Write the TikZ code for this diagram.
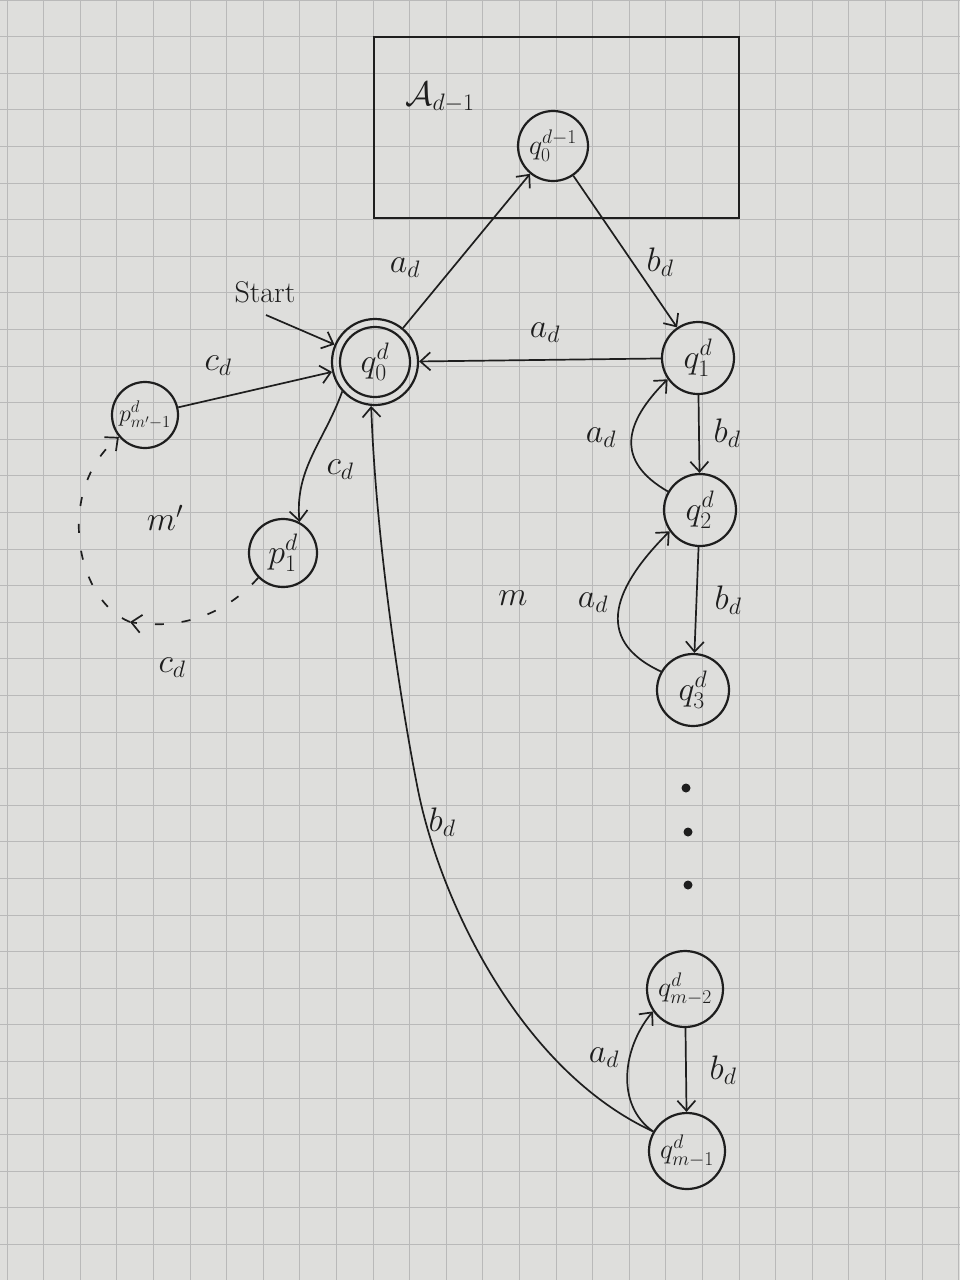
\RequirePackage{fix-cm}
\documentclass[tikz,border=0pt]{standalone}
\usepackage{amsmath}
\usetikzlibrary{arrows.meta}
\definecolor{paper}{RGB}{222,222,220}
\definecolor{gridc}{RGB}{185,185,185}
\definecolor{ink}{RGB}{30,30,30}
\begin{document}
\begin{tikzpicture}[x=1pt,y=-1pt,
  >={Straight Barb[length=10pt,width=18pt]},
  state/.style={circle,draw=ink,line width=2.2pt,minimum size=70pt,inner sep=0pt,
    text=ink,font=\fontsize{34}{38}\selectfont},
  edge/.style={->,draw=ink,line width=1.7pt},
  lab/.style={text=ink,inner sep=1pt,font=\fontsize{34}{38}\selectfont},
  dashededge/.style={->,draw=ink,line width=1.7pt,dash pattern=on 9pt off 18pt},
  dotnode/.style={circle,fill=ink,minimum size=9pt,inner sep=0pt},
  gridline/.style={draw=gridc,line width=1pt}]
\useasboundingbox (0,0) rectangle (960,1280);
\fill[paper] (0,0) rectangle (960,1280);
\foreach \i in {0,...,26} \draw[gridline] ({7+\i*36.6},0) -- ({7+\i*36.6},1280);
\foreach \j in {0,...,35} \draw[gridline] (0,{\j*36.6}) -- (960,{\j*36.6});

% box A_{d-1}
\draw[ink,line width=2.2pt] (374,37) rectangle (739,218);
\node[lab] (Alab) at (440,97) {$\mathcal{A}_{d-1}$};

% states
\node[state,font=\fontsize{28}{32}\selectfont] (qA) at (553,146) {$q_0^{d-1}$};
\node[state,minimum size=86pt] (q0) at (375,362) {$q_0^{d}$};
\draw[ink,line width=2.2pt] (q0.center) circle (35);
\node[state,minimum size=66pt,font=\fontsize{24}{28}\selectfont] (pm) at (145,415) {$p_{m'-1}^{d}$};
\node[state,minimum size=68pt] (p1) at (283,553) {$p_1^{d}$};
\node[state,minimum size=72pt] (q1) at (698,358) {$q_1^{d}$};
\node[state,minimum size=72pt] (q2) at (700,510) {$q_2^{d}$};
\node[state,minimum size=72pt] (q3) at (693,690) {$q_3^{d}$};
\node[state,minimum size=76pt,font=\fontsize{28}{32}\selectfont] (qm2) at (685,989) {$q_{m-2}^{d}$};
\node[state,minimum size=76pt,font=\fontsize{28}{32}\selectfont] (qm1) at (687,1151) {$q_{m-1}^{d}$};

% dots
\node[dotnode] (dot1) at (686,788) {};
\node[dotnode] (dot2) at (688,832) {};
\node[dotnode] (dot3) at (688,885) {};

% start
\node[text=ink,font=\fontsize{30}{34}\selectfont] (startlab) at (265,292) {Start};
\coordinate (startc) at (266,315);
\draw[edge] (startc) -- (q0);

% edges
\draw[edge] (q0) -- (qA);
\node[lab] (l1) at (405,268) {$a_d$};
\draw[edge] (qA) -- (q1);
\node[lab] (l2) at (660,262) {$b_d$};
\draw[edge] (q1) -- (q0);
\node[lab] (l3) at (545,333) {$a_d$};

\draw[edge] (q1) -- (q2);
\node[lab] (l4) at (727,433) {$b_d$};
\draw[edge] (q2.150) to[out=150,in=225,looseness=1.4] (q1.215);
\node[lab] (l5) at (601,438) {$a_d$};

\draw[edge] (q2) -- (q3);
\node[lab] (l6) at (728,600) {$b_d$};
\draw[edge] (q3.150) to[out=155,in=225,looseness=1.4] (q2.215);
\node[lab] (l7) at (593,603) {$a_d$};
\node[lab] (mlab) at (513,598) {$m$};

\draw[edge] (qm2) -- (qm1);
\node[lab] (l8) at (723,1070) {$b_d$};
\draw[edge] (qm1.150) to[out=145,in=230,looseness=1.0] (qm2.215);
\node[lab] (l9) at (604,1058) {$a_d$};

% long b_d curve
\coordinate (bmid) at (418,790);
\draw[edge] (qm1.150) .. controls (520,1070) and (440,900) .. (bmid)
  .. controls (400,700) and (376,540) .. (q0.265);
\node[lab] (l10) at (442,822) {$b_d$};

% c_d edges
\draw[edge] (pm) -- (q0);
\node[lab] (l11) at (218,366) {$c_d$};
\draw[edge] (q0.222) to[out=250,in=95] (p1.62);
\node[lab] (l12) at (340,470) {$c_d$};

% dashed cycle
\coordinate (dA) at (130,622);
\draw[dashededge] (p1.225) .. controls (225,615) and (180,630) .. (dA);
\draw[dashededge] (dA) .. controls (75,600) and (55,490) .. (pm.220);
\node[lab] (mplab) at (165,518) {$m'$};
\node[lab] (l13) at (172,668) {$c_d$};
\end{tikzpicture}
\end{document}
